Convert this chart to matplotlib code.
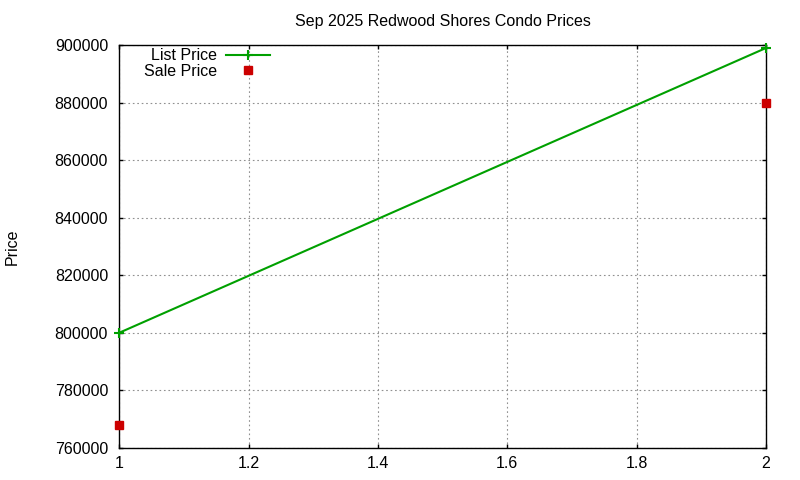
import matplotlib
matplotlib.use('Agg')
import matplotlib.pyplot as plt

# data
x_vals = [1, 2]
list_price = [800000, 899000]
sale_price = [768000, 880000]

plt.rcParams['font.family'] = ['Liberation Sans', 'DejaVu Sans']
plt.rcParams['font.size'] = 11.5

fig = plt.figure(figsize=(8, 4.8), dpi=100)
ax = fig.add_axes([0.149, 0.067, 0.8085, 0.839])

ax.plot(x_vals, list_price, color='#00a000', linewidth=1.5, marker='+',
        markersize=7, markeredgewidth=1.5, label='List Price', clip_on=False, zorder=3)
ax.plot(x_vals, sale_price, linestyle='none', color='#cc0000', marker='s',
        markersize=6, label='Sale Price', clip_on=False, zorder=3)

ax.set_xlim(1, 2)
ax.set_ylim(760000, 900000)
ax.set_xticks([1, 1.2, 1.4, 1.6, 1.8, 2])
ax.set_xticklabels(['1', '1.2', '1.4', '1.6', '1.8', '2'])
ax.set_yticks(range(760000, 900001, 20000))
ax.set_yticklabels([str(v) for v in range(760000, 900001, 20000)])
ax.tick_params(direction='in', top=True, right=True, length=3, width=1)
ax.tick_params(axis='y', pad=8)
ax.tick_params(axis='x', pad=6)
ax.grid(True, color='#909090', linestyle=(0, (1.5, 2.5)), linewidth=0.8)
for s in ax.spines.values():
    s.set_linewidth(1)

ax.set_title('Sep 2025 Redwood Shores Condo Prices', fontsize=11.5, pad=14)
ax.set_ylabel('Price')
ax.yaxis.set_label_coords(-0.153, 0.5)

ax.legend(loc='upper left', bbox_to_anchor=(0.028, 1.008), frameon=False,
          markerfirst=False, handlelength=2.7, handletextpad=0.6,
          borderaxespad=0.0, labelspacing=0.05, fontsize=11.5)

fig.savefig('out.png', dpi=100)
